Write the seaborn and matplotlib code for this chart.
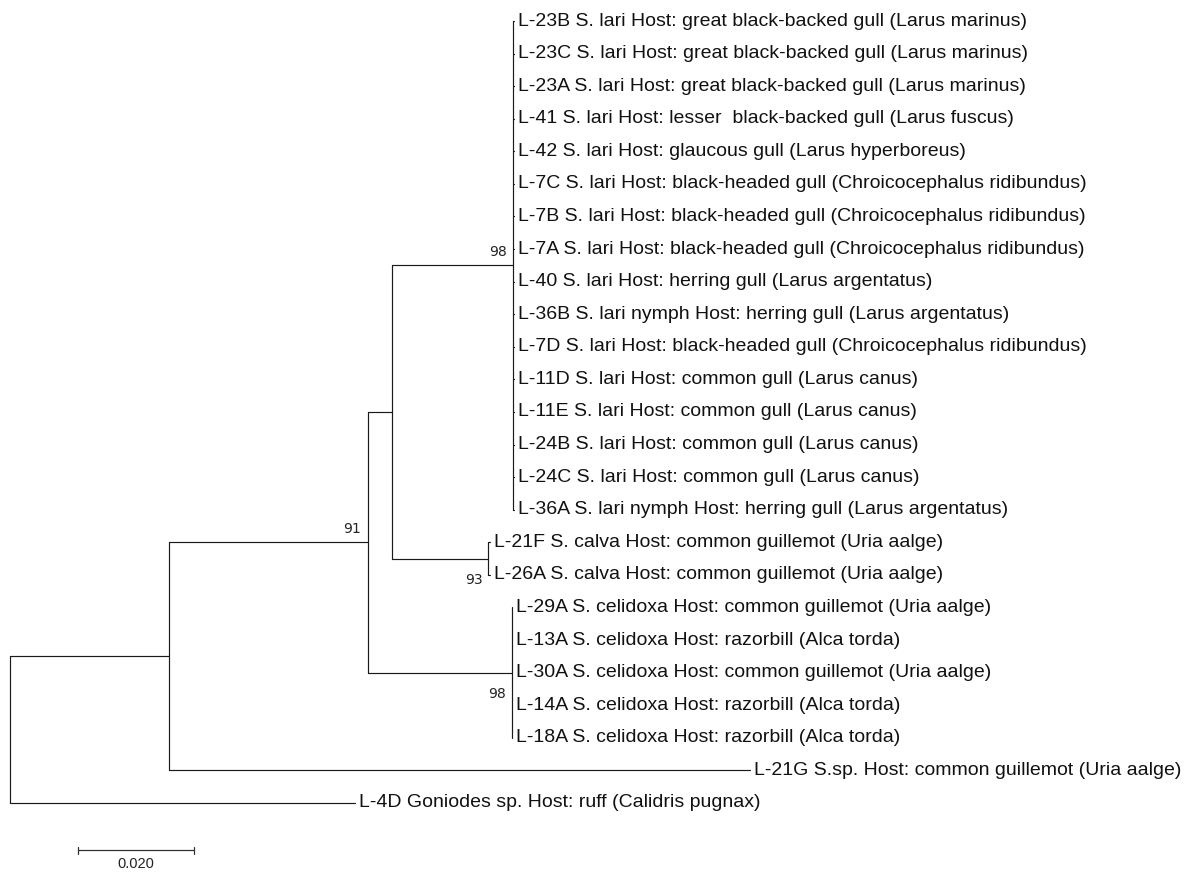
import pandas as pd
import matplotlib
matplotlib.use('Agg')
import matplotlib.pyplot as plt
import seaborn as sns

# 葉のラベル（上から順）
lari_taxa = [
    "L-23B S. lari Host: great black-backed gull (Larus marinus)",
    "L-23C S. lari Host: great black-backed gull (Larus marinus)",
    "L-23A S. lari Host: great black-backed gull (Larus marinus)",
    "L-41 S. lari Host: lesser  black-backed gull (Larus fuscus)",
    "L-42 S. lari Host: glaucous gull (Larus hyperboreus)",
    "L-7C S. lari Host: black-headed gull (Chroicocephalus ridibundus)",
    "L-7B S. lari Host: black-headed gull (Chroicocephalus ridibundus)",
    "L-7A S. lari Host: black-headed gull (Chroicocephalus ridibundus)",
    "L-40 S. lari Host: herring gull (Larus argentatus)",
    "L-36B S. lari nymph Host: herring gull (Larus argentatus)",
    "L-7D S. lari Host: black-headed gull (Chroicocephalus ridibundus)",
    "L-11D S. lari Host: common gull (Larus canus)",
    "L-11E S. lari Host: common gull (Larus canus)",
    "L-24B S. lari Host: common gull (Larus canus)",
    "L-24C S. lari Host: common gull (Larus canus)",
    "L-36A S. lari nymph Host: herring gull (Larus argentatus)",
]
calva_taxa = [
    "L-21F S. calva Host: common guillemot (Uria aalge)",
    "L-26A S. calva Host: common guillemot (Uria aalge)",
]
celidoxa_taxa = [
    "L-29A S. celidoxa Host: common guillemot (Uria aalge)",
    "L-13A S. celidoxa Host: razorbill (Alca torda)",
    "L-30A S. celidoxa Host: common guillemot (Uria aalge)",
    "L-14A S. celidoxa Host: razorbill (Alca torda)",
    "L-18A S. celidoxa Host: razorbill (Alca torda)",
]
ssp_taxon = "L-21G S.sp. Host: common guillemot (Uria aalge)"
outgroup_taxon = "L-4D Goniodes sp. Host: ruff (Calidris pugnax)"

# 内部ノード: 名前, 親, 枝長, ブートストラップ値
node_names = ['root', 'n1', 'n91', 'n2', 'lari', 'calva', 'celi']
node_parent = [None, 'root', 'n1', 'n91', 'n2', 'n2', 'n91']
node_length = [0.0, 0.0274, 0.0343, 0.0041, 0.0210, 0.0167, 0.0248]
node_support = [None, None, 91, None, 98, 93, 98]

# 葉: 親ノードと枝長
leaf_parent = ['lari'] * 16 + ['calva'] * 2 + ['celi'] * 5 + ['n1', 'root']
leaf_length = [0.0001] * 16 + [0.0002] * 2 + [0.0001] * 5 + [0.1002, 0.0595]
leaf_labels = lari_taxa + calva_taxa + celidoxa_taxa + [ssp_taxon, outgroup_taxon]

# 子の並び（上から描画順）
children = {n: [] for n in node_names}
for i, p in enumerate(leaf_parent):
    children[p].append(i)
children['root'] = ['n1', 24]
children['n1'] = ['n91', 23]
children['n91'] = ['n2', 'celi']
children['n2'] = ['lari', 'calva']

length = dict(zip(node_names, node_length))
xpos, ypos = {}, {}


def layout(node, x):
    if isinstance(node, int):
        xpos[node] = x + leaf_length[node]
        ypos[node] = node
        return
    xpos[node] = x + length[node]
    for c in children[node]:
        layout(c, xpos[node])
    ys = [ypos[c] for c in children[node]]
    ypos[node] = (ys[0] + ys[-1]) / 2


layout('root', 0.0)

# 線分のデータフレーム
rows = []
seg = 0
parent_of = dict(zip(node_names, node_parent))
for i, p in enumerate(leaf_parent):
    parent_of[i] = p
for node, p in parent_of.items():
    if p is None:
        continue
    rows += [(seg, xpos[p], ypos[node]), (seg, xpos[node], ypos[node])]
    seg += 1
for node in node_names:
    ys = [ypos[c] for c in children[node]]
    rows += [(seg, xpos[node], ys[0]), (seg, xpos[node], ys[-1])]
    seg += 1
segs = pd.DataFrame(rows, columns=['seg', 'x', 'y'])

sns.set_style('white')
fig = plt.figure(figsize=(11.95, 8.72), dpi=100)
ax = fig.add_axes([0, 0, 1, 1])
sns.lineplot(data=segs, x='x', y='y', units='seg', estimator=None, sort=False,
             color='#1a1a1a', linewidth=0.85, legend=False, ax=ax)

px = 0.02 / 116  # 1ピクセルあたりの枝長
for i, lab in enumerate(leaf_labels):
    ax.text(xpos[i] + 4 * px, i, lab, fontsize=14, family='Liberation Sans',
            va='center', ha='left', color='#111111')

# ブートストラップ値
support_pos = {'n91': 'above', 'lari': 'above', 'calva': 'below', 'celi': 'below'}
for n, s in zip(node_names, node_support):
    if s is None:
        continue
    if support_pos[n] == 'above':
        ax.text(xpos[n] - 7 * px, ypos[n] - 0.2, str(s), fontsize=10,
                family='DejaVu Sans', ha='right', va='bottom', color='#222222')
    else:
        ax.text(xpos[n] - 6 * px, ypos[n] + 0.45, str(s), fontsize=10,
                family='DejaVu Sans', ha='right', va='top', color='#222222')

# スケールバー
bar_y = 25.46
bar_x0 = 68 * px
ax.plot([bar_x0, bar_x0 + 0.02], [bar_y, bar_y], color='#333333', lw=0.9)
for xx in [bar_x0, bar_x0 + 0.02]:
    ax.plot([xx, xx], [bar_y - 0.12, bar_y + 0.12], color='#333333', lw=0.9)
ax.text(bar_x0 + 0.01, bar_y + 0.2, '0.020', fontsize=10.5, family='Liberation Sans',
        ha='center', va='top', color='#222222')

ax.set_xlim(-10 * px, 1185 * px)
ax.set_ylim((872 - 21) / 32.58, -21 / 32.58)
ax.axis('off')

plt.savefig('out.png', dpi=100)
